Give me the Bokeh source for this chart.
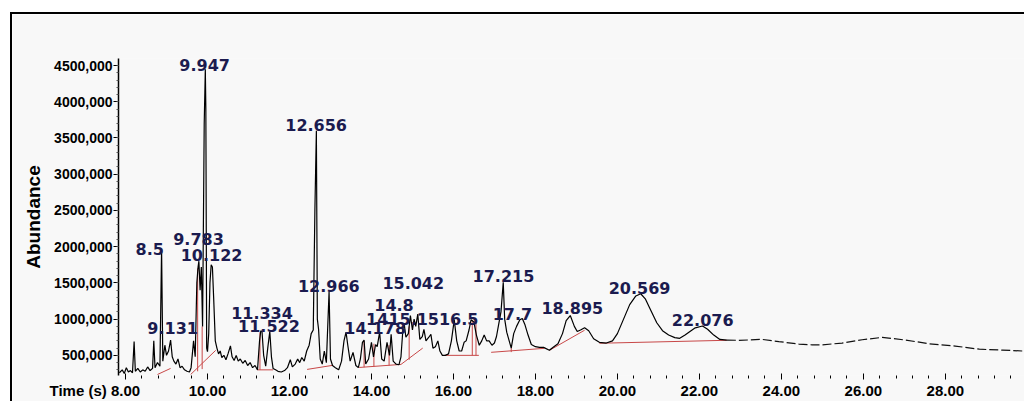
from bokeh.plotting import figure
from bokeh.models import Range1d, SingleIntervalTicker, PrintfTickFormatter, ColumnDataSource
from bokeh.embed import file_html
from bokeh.resources import INLINE
from bokeh.core.properties import value

# ---- chromatogram trace (solid part) ----
time_s = [7.85, 7.92, 7.97, 8.02, 8.07, 8.12, 8.17, 8.21, 8.24, 8.30, 8.36, 8.42, 8.48, 8.54, 8.60,
          8.66, 8.69, 8.72, 8.78, 8.84, 8.88, 8.91, 8.96, 9.00, 9.05, 9.10, 9.14, 9.18, 9.23, 9.28,
          9.33, 9.38, 9.44, 9.50, 9.56, 9.60, 9.66, 9.70, 9.74, 9.77, 9.79, 9.82, 9.85, 9.88, 9.92,
          9.947, 9.96, 9.98, 10.00, 10.03, 10.06, 10.09, 10.12, 10.15, 10.19, 10.23, 10.27, 10.31,
          10.35, 10.40, 10.45, 10.50, 10.56, 10.60, 10.65, 10.70, 10.75, 10.80, 10.86, 10.92, 10.98,
          11.04, 11.10, 11.16, 11.22, 11.27, 11.30, 11.33, 11.37, 11.42, 11.47, 11.52, 11.56, 11.60,
          11.66, 11.72, 11.80, 11.88, 11.95, 12.02, 12.07, 12.14, 12.20, 12.25, 12.30, 12.36, 12.42,
          12.48, 12.53, 12.58, 12.62, 12.656, 12.68, 12.71, 12.75, 12.80, 12.85, 12.90, 12.966, 13.00,
          13.05, 13.12, 13.20, 13.27, 13.33, 13.38, 13.42, 13.48, 13.55, 13.62, 13.68, 13.73, 13.78,
          13.82, 13.86, 13.93, 14.00, 14.05, 14.10, 14.14, 14.20, 14.25, 14.31, 14.38, 14.44, 14.48,
          14.53, 14.60, 14.67, 14.72, 14.77, 14.80, 14.84, 14.90, 14.95, 15.00, 15.04, 15.08, 15.13,
          15.18, 15.24, 15.28, 15.33, 15.40, 15.45, 15.50, 15.56, 15.62, 15.67, 15.73, 15.80, 15.88,
          15.95, 16.02, 16.08, 16.14, 16.20, 16.26, 16.31, 16.38, 16.43, 16.50, 16.56, 16.63, 16.69,
          16.75, 16.81, 16.87, 16.94, 17.00, 17.05, 17.12, 17.16, 17.215, 17.25, 17.30, 17.36, 17.41,
          17.47, 17.54, 17.62, 17.68, 17.74, 17.82, 17.90, 18.00, 18.10, 18.20, 18.34, 18.45, 18.55,
          18.66, 18.75, 18.85, 18.95, 19.02, 19.10, 19.20, 19.30, 19.42, 19.56, 19.73, 19.88, 20.00,
          20.15, 20.30, 20.45, 20.569, 20.68, 20.79, 20.96, 21.10, 21.25, 21.40, 21.52, 21.65, 21.77,
          21.90, 22.076, 22.20, 22.35, 22.50, 22.67]
abundance = [260000, 300000, 250000, 330000, 270000, 290000, 260000, 690000, 280000, 320000, 270000,
             300000, 280000, 340000, 290000, 320000, 700000, 330000, 400000, 350000, 1970000, 420000,
             640000, 500000, 560000, 710000, 480000, 420000, 380000, 450000, 330000, 350000, 300000,
             280000, 270000, 330000, 700000, 480000, 1500000, 1720000, 1800000, 1400000, 1720000,
             900000, 3700000, 4450000, 3900000, 600000, 550000, 800000, 1500000, 1750000, 1720000,
             1300000, 700000, 600000, 520000, 560000, 470000, 500000, 440000, 520000, 630000, 480000,
             430000, 500000, 420000, 450000, 390000, 430000, 360000, 400000, 330000, 360000, 300000,
             700000, 840000, 830000, 500000, 350000, 600000, 830000, 480000, 320000, 300000, 280000,
             270000, 290000, 330000, 440000, 340000, 380000, 450000, 400000, 470000, 420000, 560000,
             640000, 800000, 850000, 2500000, 3600000, 1000000, 860000, 450000, 380000, 560000, 400000,
             1380000, 450000, 360000, 330000, 300000, 420000, 700000, 820000, 650000, 420000, 540000,
             360000, 330000, 450000, 680000, 710000, 380000, 450000, 680000, 480000, 650000, 620000,
             820000, 450000, 420000, 680000, 500000, 790000, 420000, 380000, 370000, 480000, 880000,
             930000, 750000, 800000, 1050000, 850000, 1000000, 900000, 1070000, 720000, 760000, 860000,
             700000, 750000, 790000, 600000, 620000, 700000, 560000, 500000, 500000, 520000, 700000,
             990000, 700000, 560000, 560000, 680000, 700000, 850000, 990000, 960000, 780000, 640000,
             700000, 780000, 700000, 700000, 640000, 670000, 760000, 980000, 1100000, 1510000, 1000000,
             820000, 700000, 600000, 800000, 900000, 990000, 1010000, 930000, 780000, 650000, 620000,
             610000, 610000, 570000, 620000, 660000, 800000, 980000, 1050000, 900000, 830000, 850000,
             880000, 840000, 730000, 680000, 670000, 700000, 800000, 1000000, 1200000, 1320000,
             1350000, 1280000, 1150000, 950000, 840000, 780000, 745000, 735000, 780000, 830000, 880000,
             905000, 860000, 780000, 720000, 710000]

# ---- chromatogram trace (dashed tail) ----
tail_time = [22.67, 22.96, 23.20, 23.50, 23.94, 24.43, 24.75, 24.99, 25.48, 25.97, 26.46, 27.02,
             27.61, 28.24, 28.83, 29.39, 29.98]
tail_abundance = [710000, 708000, 712000, 722000, 690000, 655000, 645000, 645000, 670000, 715000,
                  748000, 712000, 660000, 628000, 585000, 572000, 558000]

# ---- integration baselines (red) ----
base_t0 = [8.78, 9.59, 11.22, 12.43, 13.70, 14.72, 15.78, 16.92, 18.34, 19.56]
base_v0 = [236000, 236000, 300000, 306000, 333000, 375000, 500000, 542000, 569000, 667000]
base_t1 = [9.10, 10.20, 11.60, 13.04, 14.72, 15.25, 16.62, 18.22, 19.20, 22.67]
base_v1 = [320000, 569000, 300000, 361000, 375000, 600000, 500000, 597000, 847000, 708000]

# ---- drop lines (red) ----
drop_t = [9.76, 9.87, 11.28, 13.82, 14.06, 14.43, 14.92, 16.46, 16.55, 17.41]
drop_v0 = [280000, 310000, 300000, 336000, 345000, 360000, 440000, 500000, 500000, 545000]
drop_v1 = [1700000, 900000, 820000, 700000, 660000, 640000, 900000, 980000, 960000, 600000]

# ---- peak labels ----
peak_text = ["9.947", "8.5", "9.783", "10.122", "9.131", "11.334", "11.522", "12.656", "12.966",
             "14.178", "14.8", "1415.1516.5", "15.042", "17.215", "17.7", "18.895", "20.569", "22.076"]
peak_t = [9.93, 8.59, 9.78, 10.10, 9.15, 11.33, 11.50, 12.65, 12.96, 14.09, 14.55, 15.24, 15.02,
          17.22, 17.44, 18.90, 20.54, 22.08]
peak_v = [4514000, 1972000, 2111000, 1889000, 875000, 1083000, 903000, 3681000, 1458000, 875000,
          1194000, 1000000, 1500000, 1597000, 1069000, 1153000, 1431000, 986000]

# ---- axis ticks ----
x_axis_title = "Time (s)"
y_ticks = [500000, 1000000, 1500000, 2000000, 2500000, 3000000, 3500000, 4000000, 4500000]
y_tick_labels = ["500,000", "1000,000", "1500,000", "2000,000", "2500,000", "3000,000",
                 "3500,000", "4000,000", "4500,000"]

p = figure(width=1014, height=389, output_backend="svg", toolbar_location=None,
           x_range=Range1d(7.829, 29.98), y_range=Range1d(222000, 4597000),
           min_border_left=106, min_border_top=44, min_border_bottom=28, min_border_right=0,
           background_fill_color="#f8f8f8", border_fill_color="#f8f8f8",
           margin=(12, 0, 0, 10))
p.styles = {"border-left": "2px solid #000000", "border-top": "2px solid #000000"}
p.outline_line_color = None
p.grid.visible = False

# red integration baselines and drop lines
p.segment(x0=base_t0, y0=base_v0, x1=base_t1, y1=base_v1, line_color="#c84848", line_width=1)
p.segment(x0=drop_t, y0=drop_v0, x1=drop_t, y1=drop_v1, line_color="#c84848", line_width=1)

# trace
p.line(time_s, abundance, line_color="#000000", line_width=1.2)
p.line(tail_time, tail_abundance, line_color="#111111", line_width=1.2, line_dash="9 3")

# peak labels
src = ColumnDataSource(dict(x=peak_t, y=peak_v, text=peak_text))
p.text(x="x", y="y", text="text", source=src, text_align="center", text_baseline="middle",
       text_font=value("DejaVu Sans"), text_font_style="bold", text_font_size="16px",
       text_color="#1b1b4f")

# x axis (the first tick label carries the axis title on its left, as in the original)
xa = p.xaxis[0]
xa.ticker = SingleIntervalTicker(interval=2, num_minor_ticks=5)
xa.formatter = PrintfTickFormatter(format="%.2f")
xa.major_label_overrides = {8: x_axis_title + " 8.00" + "\u2007" * 7 + "\u2009"}
xa.axis_line_color = None
xa.major_tick_line_color = "#000000"
xa.minor_tick_line_color = "#000000"
xa.major_tick_out = 4
xa.major_tick_in = 2
xa.minor_tick_out = 3
xa.minor_tick_in = 0
xa.major_label_standoff = 2
xa.major_label_text_font = "Liberation Sans"
xa.major_label_text_font_style = "bold"
xa.major_label_text_font_size = "15px"
xa.major_label_text_color = "#000000"

# y axis
ya = p.yaxis[0]
ya.ticker = SingleIntervalTicker(interval=500000, num_minor_ticks=5)
ya.major_label_overrides = {t: s for t, s in zip(y_ticks, y_tick_labels)}
ya.axis_line_color = "#000000"
ya.axis_line_width = 1.5
ya.major_tick_line_color = "#000000"
ya.minor_tick_line_color = "#555555"
ya.major_tick_out = 5
ya.major_tick_in = 0
ya.minor_tick_out = 2
ya.minor_tick_in = 0
ya.major_label_standoff = 1
ya.major_label_text_font = "Liberation Sans"
ya.major_label_text_font_style = "bold"
ya.major_label_text_font_size = "14px"
ya.major_label_text_color = "#000000"
ya.axis_label = "Abundance"
ya.axis_label_text_font = "Liberation Sans"
ya.axis_label_text_font_style = "bold"
ya.axis_label_text_font_size = "19px"
ya.axis_label_text_color = "#000000"
ya.axis_label_standoff = 7

open("out.html", "w").write(file_html(p, INLINE))
